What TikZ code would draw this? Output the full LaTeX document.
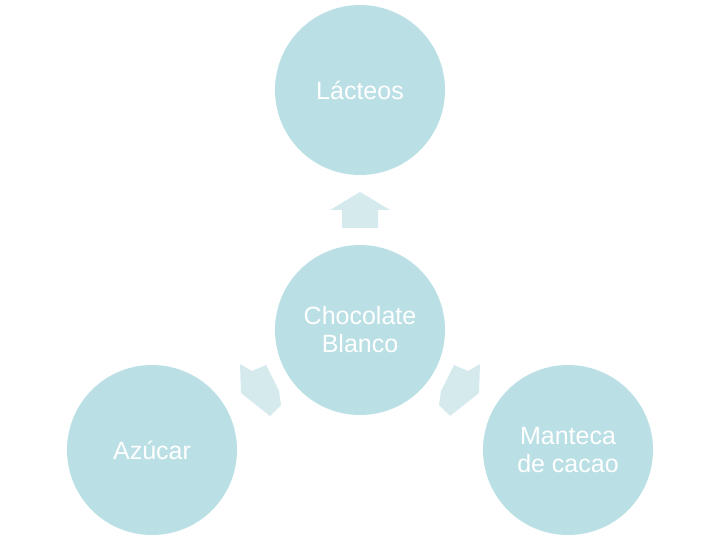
\documentclass[tikz,border=0pt]{standalone}
\usepackage{fontspec}
\setmainfont{Liberation Sans}
\definecolor{circfill}{RGB}{186,223,228}
\definecolor{arrfill}{RGB}{212,234,237}
\tikzset{
  item/.style={circle, fill=circfill, minimum size=170pt, inner sep=0pt, text=white, align=center, font=\fontsize{25}{28}\selectfont},
  blockarrow/.style={fill=arrfill, draw=none}
}
\begin{document}
\begin{tikzpicture}[x=1pt, y=-1pt]
\useasboundingbox (0,0) rectangle (720,540);
\fill[white] (0,0) rectangle (720,540);
% arrows
\fill[blockarrow] (342,228) -- (342,210) -- (330,210) -- (360,192) -- (390,210) -- (378,210) -- (378,228) -- cycle;
\fill[blockarrow] (240,364) -- (252,371) -- (266,365) -- (279,391) -- (281,405) -- (270,416) -- (241,393) -- cycle;
\fill[blockarrow] (480,364) -- (468,371) -- (454,365) -- (441,391) -- (439,405) -- (450,416) -- (479,393) -- cycle;
% circles
\node[item] (top) at (360,90) {Lácteos};
\node[item] (center) at (360,330) {Chocolate\\Blanco};
\node[item] (left) at (152,450) {Azúcar};
\node[item] (right) at (568,450) {Manteca\\de cacao};
\end{tikzpicture}
\end{document}
